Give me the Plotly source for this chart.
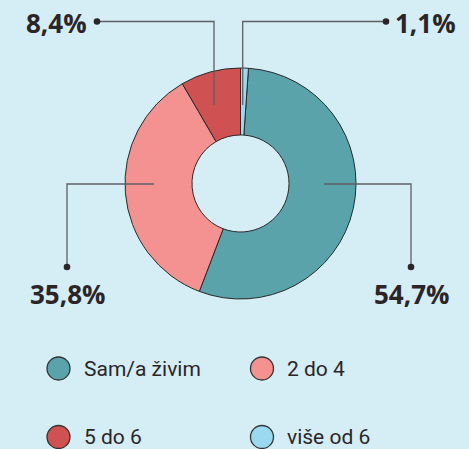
import plotly.graph_objects as go

W, H = 469, 449

labels = ['Sam/a živim', '2 do 4', '5 do 6', 'više od 6']
values = [54.7, 35.8, 8.4, 1.1]
colors = ['#5aa3aa', '#f49191', '#cf5152', '#9bd9f1']
pct_text = ['54,7%', '35,8%', '8,4%', '1,1%']

BG = '#d5edf5'
INK = '#2b2527'
LINE = '#5f5f63'


def px(x):
  return x / W


def py(y):
  return 1 - y / H


fig = go.Figure()

fig.add_trace(go.Pie(
  labels = labels,
  values = values,
  hole = 0.42,
  sort = False,
  direction = 'clockwise',
  rotation = 360 * values[3] / sum(values),
  marker = dict(colors = colors, line = dict(color = '#2a2a2a', width = 1)),
  textinfo = 'none',
  hoverinfo = 'label+percent',
  showlegend = False,
  domain = dict(x = [px(125), px(356)], y = [py(299), py(68)]),
))

# leader lines: (path points in pixels), dot at last point
leaders = [
  [(324, 184), (411, 184), (411, 267)],
  [(154, 184), (67, 184), (67, 267)],
  [(214, 105), (214, 21.5), (97, 21.5)],
  [(242.7, 105), (242.7, 21.5), (386, 21.5)],
]

shapes = []
for pts in leaders:
  path = 'M ' + ' L '.join(f'{px(x)},{py(y)}' for x, y in pts)
  shapes.append(dict(type = 'path', xref = 'paper', yref = 'paper', path = path,
                     line = dict(color = LINE, width = 1.3)))
  ex, ey = pts[-1]
  shapes.append(dict(type = 'circle', xref = 'paper', yref = 'paper',
                     x0 = px(ex - 3.3), x1 = px(ex + 3.3), y0 = py(ey + 3.3), y1 = py(ey - 3.3),
                     fillcolor = INK, line = dict(width = 0)))

label_pos = [
  (411, 294, 'center'),
  (67, 294, 'center'),
  (89, 23, 'right'),
  (393, 23, 'left'),
]

annotations = []
for (x, y, anchor), t in zip(label_pos, pct_text):
  annotations.append(dict(x = px(x), y = py(y), xref = 'paper', yref = 'paper',
                          text = f'<b>{t}</b>', showarrow = False,
                          xanchor = anchor, yanchor = 'middle',
                          font = dict(family = 'Open Sans', size = 26, color = INK)))

# legend drawn manually with circles
leg_pos = [(58.5, 368.5), (262, 368.5), (58.5, 437), (262, 437)]
for (cx, cy), lab, col in zip(leg_pos, labels, colors):
  r = 11.5
  shapes.append(dict(type = 'circle', xref = 'paper', yref = 'paper',
                     x0 = px(cx - r), x1 = px(cx + r), y0 = py(cy + r), y1 = py(cy - r),
                     fillcolor = col, line = dict(color = '#333333', width = 1.3)))
  annotations.append(dict(x = px(cx + 23), y = py(cy), xref = 'paper', yref = 'paper',
                          text = lab, showarrow = False, xanchor = 'left', yanchor = 'middle',
                          font = dict(family = 'Roboto', size = 21, color = INK)))

fig.update_layout(
  width = W,
  height = H,
  margin = dict(l = 0, r = 0, t = 0, b = 0),
  paper_bgcolor = BG,
  plot_bgcolor = BG,
  shapes = shapes,
  annotations = annotations,
)

fig.write_html('out.html', config = {'displayModeBar': False},
               post_script = "document.body.style.margin = '0';")
